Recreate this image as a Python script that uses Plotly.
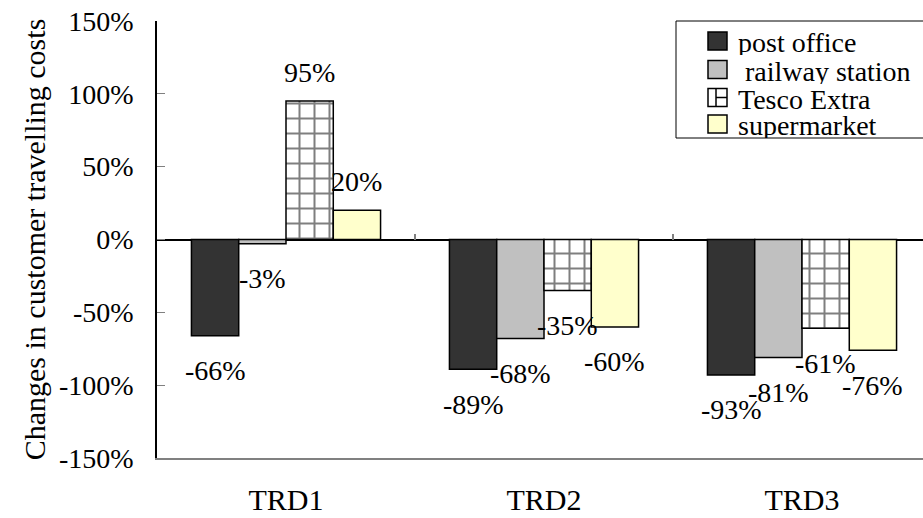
import plotly.graph_objects as go

categories = ["TRD1", "TRD2", "TRD3"]
series_names = ["post office", " railway station", "Tesco Extra", "supermarket"]
post_office = [-66, -89, -93]
railway_station = [-3, -68, -81]
tesco_extra = [95, -35, -61]
supermarket = [20, -60, -76]
y_ticks = [-150, -100, -50, 0, 50, 100, 150]
y_tick_labels = [f"{v}%" for v in y_ticks]

series_values = [post_office, railway_station, tesco_extra, supermarket]
fills = ["#333333", "#C0C0C0", "#FFFFFF", "#FFFFCC"]
FONT = "Liberation Serif, serif"
FS = 28
FS_BIG = 30
bargap = 0.267

# plot area in pixels (for layout helpers)
W_PX, H_PX = 923, 518
L, R, T, B = 157, 923, 21, 458


def px(X):
    return (X - L) / (R - L)


def py(Y):
    return (B - Y) / (B - T)


fig = go.Figure()
for k, (name, vals) in enumerate(zip(series_names, series_values)):
    marker = dict(color=fills[k], line=dict(color="black", width=1.5))
    if k == 2:
        marker["pattern"] = dict(shape="+", size=15, solidity=0.25,
                                 fgcolor="black", bgcolor="white", fillmode="overlay")
    fig.add_trace(go.Bar(name=name, x=categories, y=vals, marker=marker,
                         showlegend=False))

# data labels (Excel-style, offset from bar ends)
w = (1 - bargap) / 4
for k, vals in enumerate(series_values):
    for i, v in enumerate(vals):
        fig.add_annotation(x=i + (k - 1.5) * w, y=v, xref="x", yref="y",
                           text=f"{v}%", showarrow=False,
                           yshift=29 if v > 0 else -35,
                           font=dict(family=FONT, size=FS, color="black"))

# legend box (drawn manually to match the Excel legend layout)
shapes = [dict(type="rect", xref="paper", yref="paper",
               x0=px(676), x1=px(940), y0=py(138), y1=py(21),
               line=dict(color="black", width=1), fillcolor="white", layer="above")]
row_centers = [41, 69.5, 97.5, 124]
for k, name in enumerate(series_names):
    yc = row_centers[k]
    shapes.append(dict(type="rect", xref="paper", yref="paper",
                       x0=px(708), x1=px(727), y0=py(yc + 9), y1=py(yc - 9),
                       line=dict(color="black", width=1.5), fillcolor=fills[k],
                       layer="above"))
    if k == 2:
        shapes.append(dict(type="line", xref="paper", yref="paper",
                           x0=px(716), x1=px(716), y0=py(yc + 9), y1=py(yc - 9),
                           line=dict(color="black", width=1.5), layer="above"))
        shapes.append(dict(type="line", xref="paper", yref="paper",
                           x0=px(716), x1=px(727), y0=py(yc), y1=py(yc),
                           line=dict(color="black", width=1.5), layer="above"))
    label = "&nbsp;" + name[1:] if name.startswith(" ") else name
    fig.add_annotation(xref="paper", yref="paper", x=px(736), y=py(yc + 1),
                       xanchor="left", yanchor="middle", text=label, height=26,
                       showarrow=False, font=dict(family=FONT, size=FS, color="black"))

fig.update_layout(
    width=W_PX, height=H_PX,
    margin=dict(l=L, r=W_PX - R, t=T, b=H_PX - B, autoexpand=False),
    paper_bgcolor="white", plot_bgcolor="white",
    barmode="group", bargap=bargap, bargroupgap=0,
    font=dict(family=FONT, size=FS, color="black"),
    showlegend=False,
    shapes=shapes,
    xaxis=dict(range=[-0.5, 2.469], showline=True, linecolor="#808080", linewidth=2,
               ticks="", showgrid=False, ticklabelstandoff=14,
               tickfont=dict(family=FONT, size=FS_BIG)),
    xaxis2=dict(overlaying="x", anchor="free", position=0.5, side="top",
                range=[-0.5, 2.469], tickmode="array", tickvals=[0.5, 1.5],
                ticks="outside", ticklen=6, tickcolor="#808080", tickwidth=1.5,
                showticklabels=False, showgrid=False, showline=False, zeroline=False),
    yaxis=dict(range=[-150, 150], tickmode="array", tickvals=y_ticks,
               ticktext=y_tick_labels, ticks="inside", ticklen=8,
               tickcolor="#808080", showline=True, linecolor="black", linewidth=1.5,
               showgrid=False, zeroline=True, zerolinecolor="black", zerolinewidth=1.5,
               ticklabelstandoff=16,
               title=dict(text="Changes in customer travelling costs",
                          font=dict(family=FONT, size=FS_BIG), standoff=4),
               tickfont=dict(family=FONT, size=FS)),
)
fig.add_trace(go.Scatter(x=[0], y=[0], xaxis="x2", mode="markers",
                         marker=dict(opacity=0), showlegend=False, hoverinfo="skip"))

fig.write_html("out.html", config={"displayModeBar": False},
               post_script="document.body.style.margin='0px';")
